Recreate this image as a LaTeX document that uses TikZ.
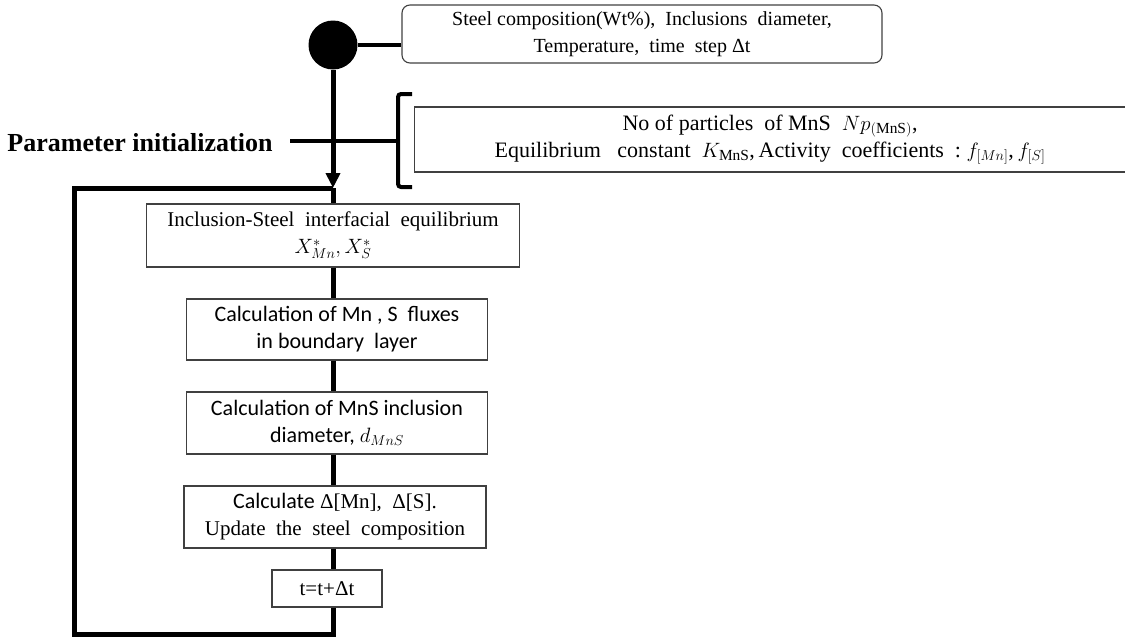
\documentclass[tikz,border=0pt]{standalone}
\usepackage{fontspec}
\setmainfont{Liberation Serif}
\newfontfamily\calfont{Carlito}
\usetikzlibrary{arrows.meta}

\begin{document}
\begin{tikzpicture}[x=1pt,y=-1pt,
    box/.style={draw=black!75,line width=1.1pt,inner sep=0pt,align=center,
      font=\fontsize{21}{27}\selectfont},
    calbox/.style={box,font=\calfont\fontsize{22}{27}\selectfont},
    flow/.style={line width=5pt}]
    \useasboundingbox (0,0) rectangle (1125,637);
    \node[box,rounded corners=8pt,minimum width=480pt,minimum height=58pt,
      font=\fontsize{20}{27}\selectfont] (inp) at (642,34)
      {Steel composition(Wt\%),\ \ Inclusions\ \ diameter,\\Temperature,\ \ time\ \ step\ Δt};
    \node[circle,fill,inner sep=0pt,minimum size=49pt] (dot) at (333,45) {};
    \draw[line width=4pt] (dot.east) -- (dot.east -| inp.west);
    \node[box,anchor=west,minimum width=711pt,minimum height=65pt,
      font=\fontsize{22}{27}\selectfont] (par) at (414,139.5)
      {No of particles\ \ of MnS\ \ $Np_{(\mathrm{MnS})}$,\\
       Equilibrium\ \ \ constant\ \ $K_{\mathrm{MnS}}$,\,Activity\ \ coefficients\ \ :\ $f_{[Mn]}$,\,$f_{[S]}$};
    \draw[line width=4pt,rounded corners=3pt] (412,94) -- (398,94) -- (398,187) -- (412,187);
    \coordinate (brc) at (398,141); \coordinate (lbe) at (290,141);
    \node[anchor=east,font=\bfseries\fontsize{26}{30}\selectfont] (lab) at (276,143)
      {Parameter initialization};
    \draw[line width=4pt] (lbe) -- (brc);
    % loop
    \coordinate (join) at (333,188);
    \draw[flow,-{Triangle[width=14pt,length=15pt]}] (dot) -- (join);
    \node[box,minimum width=373pt,minimum height=63pt] (eq) at (333,235.5)
      {Inclusion-Steel\ \ interfacial\ \ equilibrium\\$X^*_{Mn},X^*_S$};
    \node[calbox,minimum width=301pt,minimum height=61pt] (flux) at (337,329.5)
      {Calculation of Mn , S\ \ fluxes\\in boundary\ \ layer};
    \node[calbox,minimum width=301pt,minimum height=62pt] (diam) at (337,423)
      {Calculation of MnS inclusion\\diameter, $d_{MnS}$};
    \node[box,minimum width=302pt,minimum height=62pt] (upd) at (335,517)
      {{\calfont\fontsize{22}{27}\selectfont Calculate} Δ[Mn],\ \ Δ[S].\\Update\ \ the\ \ steel\ \ composition};
    \node[box,minimum width=110pt,minimum height=37pt] (tstep) at (327,588.5) {t=t+Δt};
    \draw[flow] (join) -- (join |- eq.north);
    \draw[flow] (join |- eq.south) -- (join |- flux.north);
    \draw[flow] (join |- flux.south) -- (join |- diam.north);
    \draw[flow] (join |- diam.south) -- (join |- upd.north);
    \draw[flow] (join |- upd.south) -- (join |- tstep.north);
    \coordinate (lbr) at (333,634); \coordinate (lbl) at (74,634);
    \coordinate (ltl) at (74,188);
    \draw[flow] (join |- tstep.south) -- (lbr) -- (lbl) -- (ltl) -- (join);
  \end{tikzpicture}
\end{document}
